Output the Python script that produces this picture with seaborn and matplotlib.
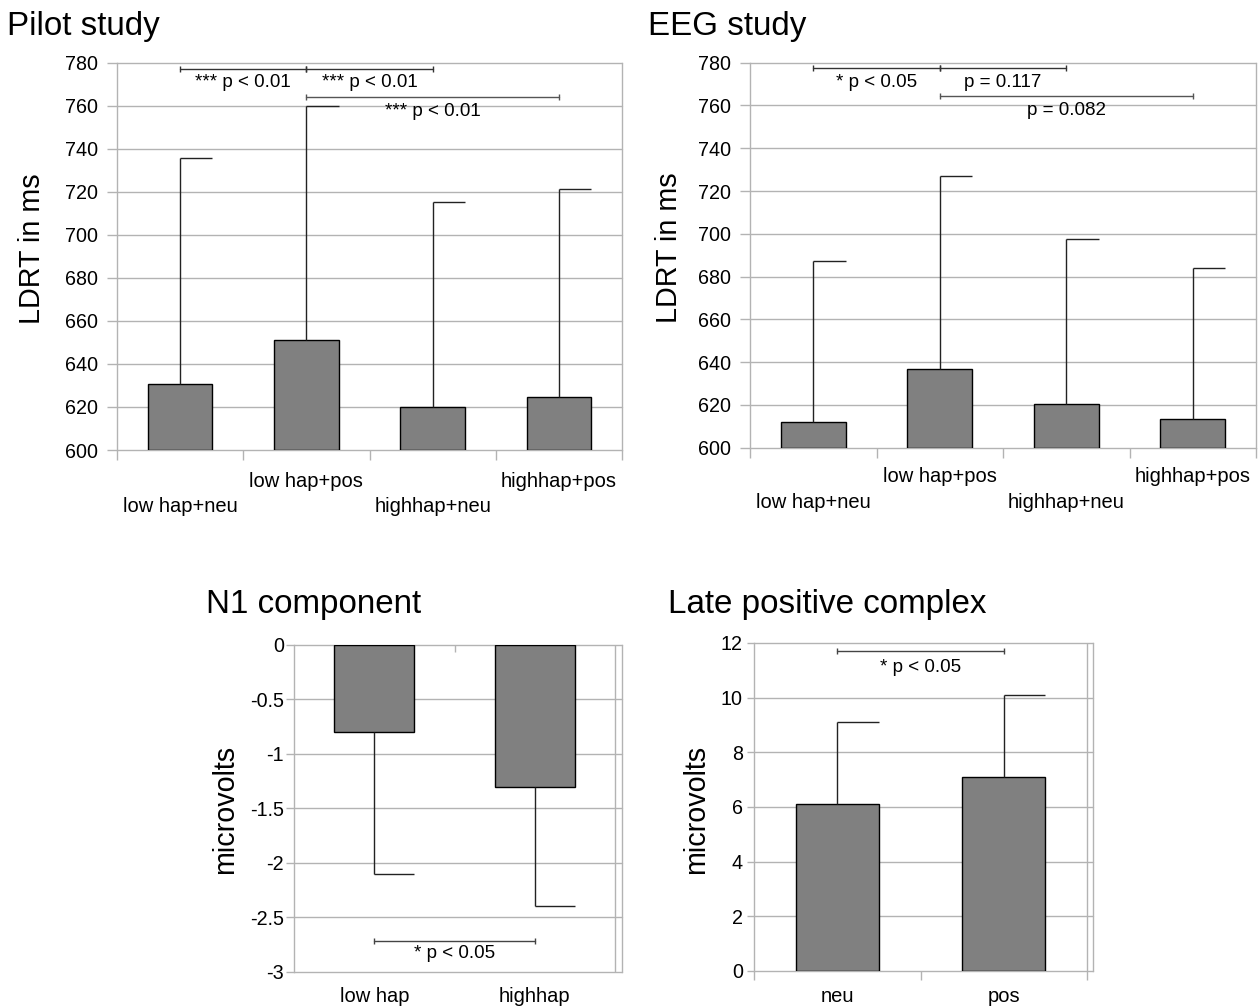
import numpy as np
import pandas as pd
import matplotlib
matplotlib.use("Agg")
import matplotlib.pyplot as plt
import matplotlib.transforms as mtransforms
import seaborn as sns

sns.set_theme(style="white")
plt.rcParams["font.family"] = ["Liberation Sans", "DejaVu Sans"]
plt.rcParams["axes.unicode_minus"] = False

# ---- data -------------------------------------------------------------
ldrt_conditions = ["low hap+neu", "low hap+pos", "highhap+neu", "highhap+pos"]
pilot_mean = [630.5, 651.0, 619.8, 624.5]
pilot_sd = [105.3, 109.0, 95.6, 96.9]
eeg_mean = [611.9, 636.6, 620.6, 613.6]
eeg_sd = [75.5, 90.4, 77.1, 70.3]
ldrt_ticks = [600, 620, 640, 660, 680, 700, 720, 740, 760, 780]

n1_groups = ["low hap", "highhap"]
n1_mean = [-0.8, -1.3]
n1_sd = [1.3, 1.1]
n1_ticks = [0, -0.5, -1, -1.5, -2, -2.5, -3]
n1_tick_labels = ["0", "-0.5", "-1", "-1.5", "-2", "-2.5", "-3"]

lpc_conditions = ["neu", "pos"]
lpc_mean = [6.1, 7.1]
lpc_sd = [3.0, 3.0]
lpc_ticks = [0, 2, 4, 6, 8, 10, 12]

# pairwise comparisons: (first, second, label)
pilot_tests = [(0, 1, "*** p < 0.01"), (1, 2, "*** p < 0.01"), (1, 3, "*** p < 0.01")]
eeg_tests = [(0, 1, "* p < 0.05"), (1, 2, "p = 0.117"), (1, 3, "p = 0.082")]
n1_tests = [(0, 1, "* p < 0.05")]
lpc_tests = [(0, 1, "* p < 0.05")]

# ---- figure -----------------------------------------------------------
W, H = 1258, 1006
fig = plt.figure(figsize=(W / 100, H / 100), dpi=100)
GRID = "#b3b3b3"


def rect(l, t, r, b):
    return [l / W, 1 - b / H, (r - l) / W, (b - t) / H]


def bar_panel(ax, cats, means, sds, width, base=0.0):
    df = pd.DataFrame({"cond": cats, "value": means})
    sns.barplot(data=df, x="cond", y="value", color="#808080", saturation=1,
                edgecolor="black", linewidth=1, width=width, errorbar=None, ax=ax)
    if base != 0.0:
        for p in ax.patches:
            top = p.get_y() + p.get_height()
            p.set_y(base)
            p.set_height(top - base)
    m = np.array(means)
    ends = m + np.sign(m) * np.array(sds)
    xs = np.arange(len(cats))
    ax.vlines(xs, m, ends, color="#222222", lw=1, zorder=3)
    ax.hlines(ends, xs, xs + width / 2, color="#222222", lw=1, zorder=3)


def style_y(ax, ticks, labels, ylim, tick_len, pad):
    ax.set_ylim(ylim)
    ax.set_yticks(ticks)
    ax.set_yticklabels(labels)
    ax.grid(axis="y", color=GRID, lw=1)
    ax.grid(axis="x", visible=False)
    ax.set_axisbelow(True)
    for line in ax.get_ygridlines():
        line.set_clip_on(False)
    for s in ["top", "bottom"]:
        ax.spines[s].set_visible(False)
    for s in ["left", "right"]:
        ax.spines[s].set_color(GRID)
        ax.spines[s].set_linewidth(1)
    ax.tick_params(axis="y", left=True, length=tick_len, width=1, color=GRID,
                   pad=pad, labelsize=14.2, labelcolor="black")
    ax.set_xlabel("")
    ax.set_ylabel("")


def cat_labels(ax, cats, rows, fontsize=14.5):
    tr = mtransforms.blended_transform_factory(ax.transData, ax.transAxes)
    for i, c in enumerate(cats):
        ax.text(i, rows[i % len(rows)], c, transform=tr, ha="center", va="center",
                fontsize=fontsize, color="black")


def bracket(ax, i, j, y, text, ty, color="#333333"):
    ax.plot([i, j], [y, y], color=color, lw=1, marker="|", markersize=4,
            markeredgewidth=1, zorder=4, clip_on=False)
    ax.text((i + j) / 2, ty, text, ha="center", va="center", fontsize=13.5,
            color="black")


# ---- Pilot study ------------------------------------------------------
ax1 = fig.add_axes(rect(117, 62.7, 622, 450))
bar_panel(ax1, ldrt_conditions, pilot_mean, pilot_sd, 0.51, base=600)
style_y(ax1, ldrt_ticks, [str(t) for t in ldrt_ticks], (600, 780), 7.2, 6.5)
ax1.set_xlim(-0.5, 3.5)
ax1.set_xticks(np.arange(-0.5, 4.0, 1.0))
ax1.set_xticklabels([])
ax1.tick_params(axis="x", bottom=True, length=7.2, width=1, color=GRID, direction="out")
cat_labels(ax1, ldrt_conditions, [-0.147, -0.082])
for (i, j, lab), (y, ty), col in zip(pilot_tests, [(777, 770.6), (777, 770.6), (764, 757.2)],
                                     ["#333333", "#333333", "#555555"]):
    bracket(ax1, i, j, y, lab, ty, col)

# ---- EEG study --------------------------------------------------------
ax2 = fig.add_axes(rect(750, 62.7, 1256, 447.7))
bar_panel(ax2, ldrt_conditions, eeg_mean, eeg_sd, 0.51, base=600)
style_y(ax2, ldrt_ticks, [str(t) for t in ldrt_ticks], (600, 780), 7.2, 6.5)
ax2.set_xlim(-0.5, 3.5)
ax2.set_xticks(np.arange(-0.5, 4.0, 1.0))
ax2.set_xticklabels([])
ax2.tick_params(axis="x", bottom=True, length=7.2, width=1, color=GRID, direction="out")
cat_labels(ax2, ldrt_conditions, [-0.1436, -0.0761])
for (i, j, lab), (y, ty), col in zip(eeg_tests, [(777.4, 770.8), (777.4, 770.8), (764.5, 757.8)],
                                     ["#333333", "#333333", "#555555"]):
    bracket(ax2, i, j, y, lab, ty, col)

# ---- N1 component -----------------------------------------------------
ax3 = fig.add_axes(rect(294, 645, 621.7, 971.7))
bar_panel(ax3, n1_groups, n1_mean, n1_sd, 0.5)
style_y(ax3, n1_ticks, n1_tick_labels, (-3, 0), 5.5, 1.8)
ax3.set_xlim(-0.5, 1.5 + 6.7 / 161.3)
ax3.axvline(1.5, color=GRID, lw=1, zorder=0)
ax3.set_xticks([0.5])
ax3.set_xticklabels([])
ax3.tick_params(axis="x", bottom=False, top=True, length=4.8, width=1, color=GRID,
                direction="in")
cat_labels(ax3, n1_groups, [-0.0765])
for i, j, lab in n1_tests:
    bracket(ax3, i, j, -2.72, lab, -2.837, "#444444")

# ---- Late positive complex -------------------------------------------
ax4 = fig.add_axes(rect(754, 643, 1093, 971))
bar_panel(ax4, lpc_conditions, lpc_mean, lpc_sd, 0.5)
style_y(ax4, lpc_ticks, [str(t) for t in lpc_ticks], (0, 12), 4.8, 3.2)
ax4.set_xlim(-0.5, 1.5 + 6.0 / 166.5)
ax4.axvline(1.5, color=GRID, lw=1, zorder=0)
ax4.set_xticks([-0.5, 0.5, 1.5])
ax4.set_xticklabels([])
ax4.tick_params(axis="x", bottom=True, length=6.5, width=1, color=GRID, direction="out")
cat_labels(ax4, lpc_conditions, [-0.078])
for i, j, lab in lpc_tests:
    bracket(ax4, i, j, 11.71, lab, 11.12, "#444444")

# ---- titles and axis names -------------------------------------------
for x, base, title in [(7, 35, "Pilot study"), (648, 35, "EEG study"),
                       (206, 613.3, "N1 component"), (668, 613.3, "Late positive complex")]:
    fig.text(x / W, 1 - base / H, title, fontsize=23.9, va="baseline", ha="left",
             color="black")

for x, y, lab in [(32.5, 249, "LDRT in ms"), (669, 248, "LDRT in ms"),
                  (225, 809, "microvolts"), (696, 809, "microvolts")]:
    fig.text(x / W, 1 - y / H, lab, fontsize=20.7, rotation=90, ha="center",
             va="center", color="black")

fig.savefig("out.png", dpi=100, facecolor="white")
